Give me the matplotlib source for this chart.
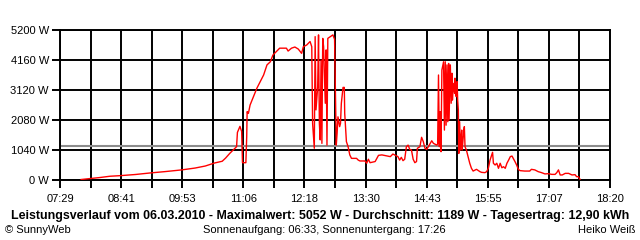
import matplotlib
matplotlib.use("Agg")
import matplotlib.pyplot as plt

plt.rcParams['font.family'] = ['Liberation Sans', 'DejaVu Sans']

# Messwerte: Zeit in Minuten seit Mitternacht, Leistung in W
zeit = [474, 485, 496, 508, 520, 538, 556, 573, 593, 609, 621, 632, 641, 645, 650, 656,
        658, 659, 662, 664, 665, 669, 670, 670.5, 672, 674, 678, 682, 686, 690, 694, 698,
        701, 705, 709, 717, 719, 723, 727, 731, 735, 737, 741, 745, 747, 748, 750, 751,
        752, 754, 755, 756, 757, 758, 759, 760, 761, 763, 764, 765, 766, 769, 772, 774,
        776, 777, 778, 780, 781, 782, 784, 785.5, 786, 788, 790, 792, 794, 800, 802, 804,
        810, 812, 814, 816, 822, 826, 830, 840, 843, 849, 851, 853, 855, 857, 859, 861,
        863, 865, 867, 869, 871, 872, 875, 877, 879, 881, 883, 885, 889, 891, 895, 896,
        897, 898, 899, 900, 901, 903, 904, 905, 906, 907, 908, 909, 909.5, 911, 912, 913,
        913.5, 914.5, 916, 916.5, 917, 918, 919, 919.7, 920.5, 921, 922, 923, 923.6, 924.5,
        925, 927, 927.6, 928.4, 930, 932, 934, 936, 938, 942, 946, 948, 952, 954, 956, 958,
        961, 962, 964, 966, 968, 970, 972, 974, 976, 978, 980, 982, 984, 985.5, 987.5,
        989.5, 991.5, 993.5, 999, 1005, 1007, 1011, 1015, 1019, 1023, 1027, 1031, 1035,
        1037, 1039, 1041, 1043.5, 1047, 1051, 1055, 1058.6, 1060.5, 1062.5, 1064.5]
leistung = [17, 50, 85, 130, 150, 190, 245, 290, 350, 415, 485, 590, 650, 760, 925, 1100,
            1155, 1650, 1860, 1680, 600, 600, 1500, 2370, 2310, 2600, 2890, 3180, 3410, 3640, 3990, 4100,
            4330, 4450, 4570, 4570, 4470, 4570, 4610, 4540, 4390, 4620, 4680, 4800, 4620, 1960, 1100, 4970,
            2430, 3230, 5030, 1960, 1390, 4160, 1270, 4910, 4620, 2660, 4510, 1210, 4910, 4970, 5030, 4880,
            1210, 1620, 2190, 1850, 1960, 2660, 3210, 3210, 2310, 1330, 1155, 870, 750, 750, 690, 660,
            660, 580, 720, 600, 640, 855, 870, 810, 900, 810, 690, 785, 670, 720, 1155, 1210,
            1060, 1040, 720, 600, 640, 1100, 1155, 1480, 1330, 1100, 1060, 1155, 1360, 1270, 1210, 1250,
            3640, 1155, 2370, 980, 3810, 4100, 1730, 4100, 1900, 3990, 2020, 4040, 2080, 3990, 2660, 3700,
            2770, 3350, 3000, 3530, 3120, 2890, 3410, 2770, 2430, 920, 2020, 1040, 1390, 1730,
            1040, 1730, 1850, 1155, 1040, 810, 580, 405, 310, 370, 290, 265, 255, 290, 405, 690,
            960, 580, 520, 580, 405, 580, 425, 460, 405, 580, 690, 810, 830, 750, 640,
            520, 370, 325, 310, 310, 370, 350, 290, 255, 210, 220, 195, 195,
            255, 350, 175, 175, 230, 230, 175, 185, 115, 115, 25]

durchschnitt = 1189
x_start, x_ende = 449, 1100   # 07:29 bis 18:20
x_labels = ['07:29', '08:41', '09:53', '11:06', '12:18', '13:30', '14:43', '15:55', '17:07', '18:20']
y_werte = [0, 1040, 2080, 3120, 4160, 5200]

fig = plt.figure(figsize=(6.4, 2.4), dpi=100)
ax = fig.add_axes([60 / 640, 60 / 240, 550 / 640, 150 / 240])

schritt = (x_ende - x_start) / (len(x_labels) - 1)
major = [x_start + i * schritt for i in range(len(x_labels))]
minor = [m + schritt / 2 for m in major[:-1]]

ax.set_xlim(x_start, x_ende)
ax.set_ylim(0, 5200)
ax.set_xticks(major)
ax.set_xticklabels(x_labels)
ax.set_xticks(minor, minor=True)
ax.set_yticks(y_werte)
ax.set_yticklabels([f"{v} W" for v in y_werte])

ax.grid(True, which='both', color='black', linewidth=1.4)
ax.set_axisbelow(True)
ax.tick_params(which='both', length=6, width=1.4, labelsize=8, pad=2)
ax.tick_params(axis='x', pad=4)
for s in ax.spines.values():
    s.set_linewidth(1.4)

ax.axhline(durchschnitt, color='#8c8c8c', linewidth=1.5, zorder=2)
ax.plot(zeit, leistung, color='red', linewidth=1.0, zorder=3)

# Texte unter dem Diagramm (y von unten gemessen)
fig.text(0.5, 1 - 216 / 240, "Leistungsverlauf vom 06.03.2010 - Maximalwert: 5052 W - Durchschnitt: 1189 W - Tagesertrag: 12,90 kWh",
         ha='center', va='center', fontsize=8.9, fontweight='bold')
fig.text(5 / 640, 1 - 230 / 240, "\u00a9 SunnyWeb", ha='left', va='center', fontsize=8)
fig.text(324 / 640, 1 - 230 / 240, "Sonnenaufgang: 06:33, Sonnenuntergang: 17:26", ha='center', va='center', fontsize=8)
fig.text(636 / 640, 1 - 230 / 240, "Heiko Weiß", ha='right', va='center', fontsize=8)

plt.savefig('out.png', dpi=100)
